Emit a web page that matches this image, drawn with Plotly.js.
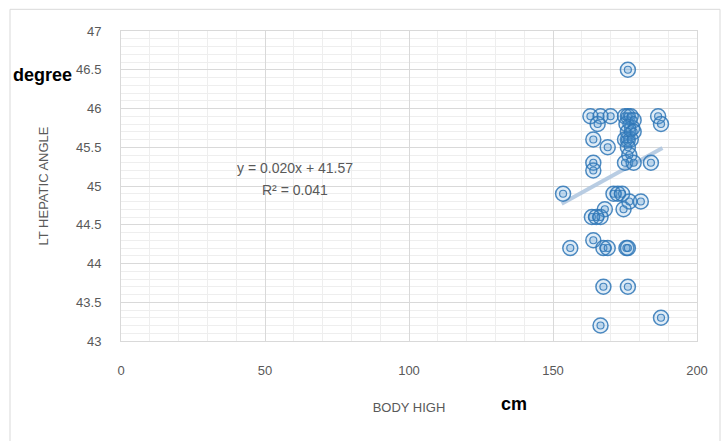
<!DOCTYPE html>
<html>
<head>
<meta charset="utf-8">
<script src="https://cdn.plot.ly/plotly-3.0.1.min.js"></script>
<style>html,body{margin:0;padding:0;background:#fff;}#chart{width:724px;height:441px;}</style>
</head>
<body>
<div id="chart"></div>
<script>
// Body height (cm)
const bodyHigh = [176, 163, 166.5, 170, 175, 176, 177, 178, 175.5, 177.5, 176, 178, 165.5, 186.5, 187.5,
  164, 176, 175, 177, 169, 176, 176.5, 164, 164, 175, 178, 184,
  153.5, 171, 172.5, 174, 176.5, 180.5, 168, 174.5, 163.5, 165, 166.5,
  156, 164, 167.5, 169, 175.5, 176, 167.5, 176, 166.5, 187.5];
// LT hepatic angle (degree)
const ltHepaticAngle = [46.5, 45.9, 45.9, 45.9, 45.9, 45.9, 45.9, 45.85, 45.8, 45.75, 45.7, 45.7, 45.8, 45.9, 45.8,
  45.6, 45.6, 45.6, 45.6, 45.5, 45.5, 45.4, 45.3, 45.2, 45.3, 45.3, 45.3,
  44.9, 44.9, 44.9, 44.9, 44.8, 44.8, 44.7, 44.7, 44.6, 44.6, 44.6,
  44.2, 44.3, 44.2, 44.2, 44.2, 44.2, 43.7, 43.7, 43.2, 43.3];
// Linear trend line endpoints (as drawn)
const trendX = [153, 188];
const trendY = [44.77, 45.49];
const xTicks = [0, 50, 100, 150, 200];
const yTicks = [43, 43.5, 44, 44.5, 45, 45.5, 46, 46.5, 47];
const equationText = ["y = 0.020x + 41.57", "R² = 0.041"];

const FONT = "Liberation Sans Narrow, Liberation Sans, Arial, sans-serif";
const data = [
  {x: trendX, y: trendY, type: 'scatter', mode: 'lines',
   line: {color: 'rgba(173,196,222,0.85)', width: 4}, hoverinfo: 'skip'},
  {x: bodyHigh, y: ltHepaticAngle, type: 'scatter', mode: 'markers',
   marker: {symbol: 'circle', size: 15, color: 'rgba(91,155,213,0.18)',
            line: {color: 'rgba(46,117,182,0.85)', width: 1.5}}},
  {x: bodyHigh, y: ltHepaticAngle, type: 'scatter', mode: 'markers',
   marker: {symbol: 'circle', size: 7, color: 'rgba(91,155,213,0.25)',
            line: {color: 'rgba(46,117,182,0.85)', width: 1.2}}}
];

const layout = {
  width: 724, height: 441,
  margin: {l: 121, r: 27, t: 31, b: 100},
  paper_bgcolor: '#ffffff', plot_bgcolor: '#ffffff',
  showlegend: false,
  font: {family: FONT, color: '#595959', size: 13},
  xaxis: {
    range: [0, 200], tickvals: xTicks, ticktext: xTicks.map(String),
    showgrid: true, gridcolor: '#d9d9d9', gridwidth: 1,
    minor: {dtick: 10, showgrid: true, gridcolor: '#eeeeee', gridwidth: 1},
    zeroline: false, showline: true, linecolor: '#d9d9d9', mirror: true,
    ticks: '', ticklabelstandoff: 17,
    tickfont: {family: FONT, size: 13, color: '#595959'},
    title: {text: 'BODY HIGH', font: {family: FONT, size: 13, color: '#595959'}, standoff: 26}
  },
  yaxis: {
    range: [43, 47], tickvals: yTicks, ticktext: yTicks.map(String),
    showgrid: true, gridcolor: '#d9d9d9', gridwidth: 1,
    minor: {dtick: 0.1, showgrid: true, gridcolor: '#eeeeee', gridwidth: 1},
    zeroline: false, showline: true, linecolor: '#d9d9d9', mirror: true,
    ticks: '', ticklabelstandoff: 16,
    tickfont: {family: FONT, size: 13, color: '#595959'},
    title: {text: 'LT HEPATIC ANGLE', font: {family: FONT, size: 13, color: '#595959'}, standoff: 24}
  },
  annotations: [
    {xref: 'paper', yref: 'paper', xanchor: 'center', yanchor: 'middle', x: (295 - 121) / 576, y: (340.7 - 168) / 310, text: equationText[0],
     showarrow: false, font: {family: FONT, size: 14, color: '#595959'}},
    {xref: 'paper', yref: 'paper', xanchor: 'center', yanchor: 'middle', x: (295 - 121) / 576, y: (340.7 - 190) / 310, text: equationText[1],
     showarrow: false, font: {family: FONT, size: 14, color: '#595959'}},
    {xref: 'paper', yref: 'paper', xanchor: 'center', yanchor: 'middle', x: (42 - 121) / 576, y: (340.7 - 75) / 310, text: '<b>degree</b>',
     showarrow: false, font: {family: 'Liberation Sans, Arial, sans-serif', size: 18, color: '#000000'}},
    {xref: 'paper', yref: 'paper', xanchor: 'center', yanchor: 'middle', x: (514 - 121) / 576, y: (340.7 - 404) / 310, text: '<b>cm</b>',
     showarrow: false, font: {family: 'Liberation Sans, Arial, sans-serif', size: 18, color: '#000000'}}
  ],
  shapes: [
    {type: 'rect', xref: 'paper', yref: 'paper', layer: 'below',
     x0: (10 - 121) / 576, x1: (720 - 121) / 576, y0: (340.7 - 460) / 310, y1: (340.7 - 9) / 310,
     line: {color: '#d9d9d9', width: 1}, fillcolor: 'rgba(0,0,0,0)'}
  ]
};

Plotly.newPlot('chart', data, layout, {displayModeBar: false, staticPlot: true});
</script>
</body>
</html>
